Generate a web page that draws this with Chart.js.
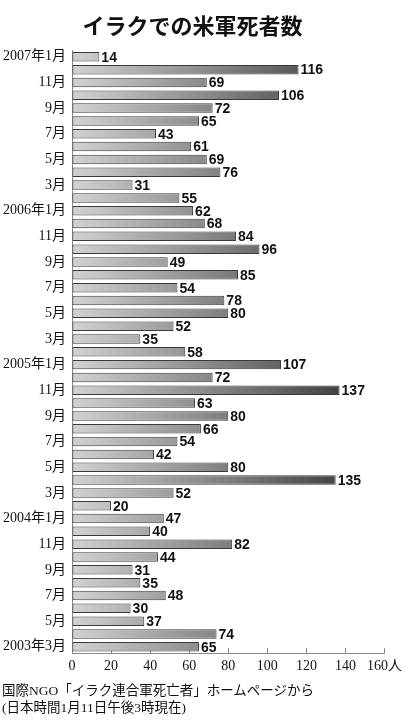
<!DOCTYPE html>
<html>
<head>
<meta charset="utf-8">
<script src="https://cdn.jsdelivr.net/npm/chart.js@4"></script>
<style>
  body { margin: 0; background: #fff; width: 412px; height: 728px; overflow: hidden; position: relative; }
  #wrap { position: absolute; left: 0; top: 0; width: 412px; height: 685px; }
  .note { position: absolute; left: 2px; font: 13.5px "Liberation Serif", "Noto Sans CJK JP", serif; color: #111; white-space: nowrap; }
</style>
</head>
<body>
<div id="wrap"><canvas id="deaths"></canvas></div>
<div class="note" style="top:679px">国際NGO「イラク連合軍死亡者」ホームページから</div>
<div class="note" style="top:696px">(日本時間1月11日午後3時現在)</div>
<script>
// top to bottom, newest first
var months = [
    '2007年1月',
    '2006年12月', '2006年11月', '2006年10月', '2006年9月', '2006年8月', '2006年7月',
    '2006年6月', '2006年5月', '2006年4月', '2006年3月', '2006年2月', '2006年1月',
    '2005年12月', '2005年11月', '2005年10月', '2005年9月', '2005年8月', '2005年7月',
    '2005年6月', '2005年5月', '2005年4月', '2005年3月', '2005年2月', '2005年1月',
    '2004年12月', '2004年11月', '2004年10月', '2004年9月', '2004年8月', '2004年7月',
    '2004年6月', '2004年5月', '2004年4月', '2004年3月', '2004年2月', '2004年1月',
    '2003年12月', '2003年11月', '2003年10月', '2003年9月', '2003年8月', '2003年7月',
    '2003年6月', '2003年5月', '2003年4月', '2003年3月'
];
var deaths = [
    14,
    116, 69, 106, 72, 65, 43,
    61, 69, 76, 31, 55, 62,
    68, 84, 96, 49, 85, 54,
    78, 80, 52, 35, 58, 107,
    72, 137, 63, 80, 66, 54,
    42, 80, 135, 52, 20, 47,
    40, 82, 44, 31, 35, 48,
    30, 37, 74, 65
];
var xTicks = [0, 20, 40, 60, 80, 100, 120, 140, 160];
var unit = '人';

var valueLabels = {
    id: 'valueLabels',
    afterDatasetsDraw: function(chart) {
        var ctx = chart.ctx;
        var meta = chart.getDatasetMeta(0);
        ctx.save();
        ctx.font = 'bold 14px "Liberation Sans", Arial, sans-serif';
        ctx.fillStyle = '#111';
        ctx.textBaseline = 'middle';
        meta.data.forEach(function(bar, i) {
            ctx.fillText(deaths[i], bar.x + 2, bar.y + 1);
        });
        ctx.restore();
    }
};

function barFill(context) {
    var chart = context.chart;
    var area = chart.chartArea;
    if (!area) return '#999';
    var x = chart.scales.x;
    var g = chart.ctx.createLinearGradient(x.getPixelForValue(0), 0, x.getPixelForValue(160), 0);
    g.addColorStop(0, '#d2d2d2');
    g.addColorStop(1, '#2a2a2a');
    return g;
}

var ctx = document.getElementById('deaths').getContext('2d');
new Chart(ctx, {
    type: 'bar',
    data: {
        labels: months,
        datasets: [{
            data: deaths,
            backgroundColor: barFill,
            borderColor: '#3a3a3a',
            borderWidth: 1,
            borderSkipped: false,
            barPercentage: 0.74,
            categoryPercentage: 1
        }]
    },
    plugins: [valueLabels],
    options: {
        indexAxis: 'y',
        responsive: true,
        maintainAspectRatio: false,
        animation: false,
        layout: {
            padding: { left: 0, right: 27, top: 0, bottom: 0 }
        },
        plugins: {
            legend: { display: false },
            tooltip: { enabled: false },
            title: {
                display: true,
                text: 'イラクでの米軍死者数',
                color: '#111',
                font: { family: '"Noto Sans CJK JP", sans-serif', size: 22, weight: 'bold' },
                padding: { top: 12, bottom: 12 }
            }
        },
        scales: {
            y: {
                grid: { display: false, drawTicks: false },
                border: { display: true, color: '#888', width: 1 },
                afterFit: function(scale) { scale.width = 72; },
                ticks: {
                    autoSkip: false,
                    color: '#111',
                    padding: 6,
                    font: { family: '"Liberation Serif", "Noto Sans CJK JP", serif', size: 14 },
                    callback: function(v, i) {
                        if (i % 2) return '';
                        var l = months[i];
                        var m = l.split('年')[1];
                        return (m === '1月' || i === months.length - 1) ? l : m;
                    }
                }
            },
            x: {
                min: xTicks[0],
                max: xTicks[xTicks.length - 1],
                grid: { drawOnChartArea: false, color: '#888', tickLength: -5 },
                border: { display: true, color: '#888', width: 1 },
                afterBuildTicks: function(scale) {
                    scale.ticks = xTicks.map(function(v) { return { value: v }; });
                },
                ticks: {
                    color: '#111',
                    padding: 10,
                    maxRotation: 0,
                    minRotation: 0,
                    font: { family: '"Liberation Serif", "Noto Sans CJK JP", serif', size: 14 },
                    callback: function(v) {
                        return v === xTicks[xTicks.length - 1] ? v + unit : v;
                    }
                }
            }
        }
    }
});
</script>
</body>
</html>
